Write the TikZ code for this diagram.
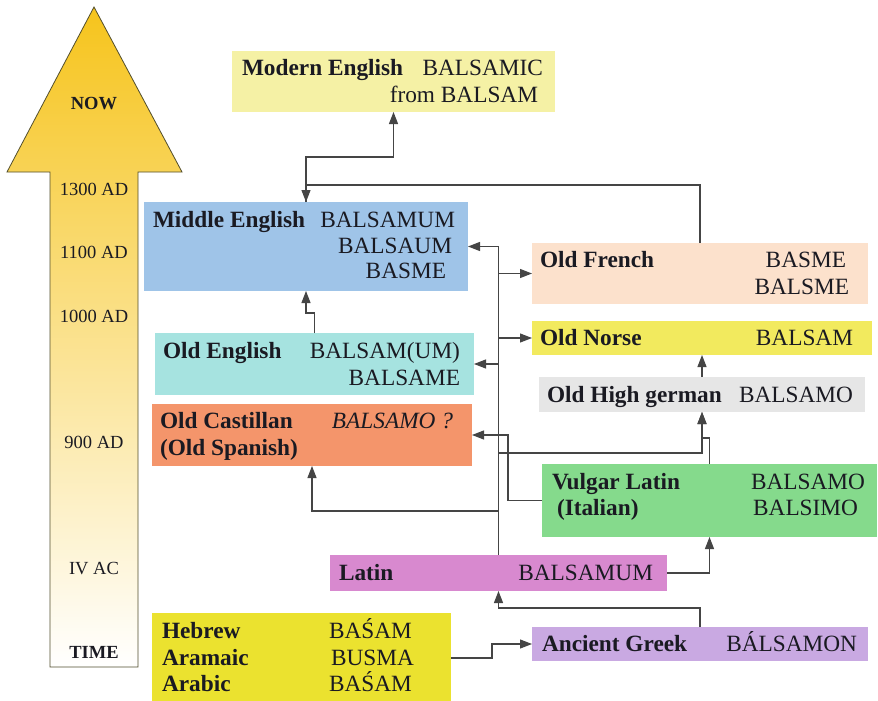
\documentclass[tikz,border=0pt]{standalone}
\usepackage{fontspec}
\setmainfont{Liberation Serif}
\usetikzlibrary{arrows.meta}
\definecolor{txt}{HTML}{1A1A22}
\definecolor{lnc}{HTML}{454545}
\definecolor{gold}{HTML}{F6C41C}
\definecolor{cmod}{HTML}{F5F1A5}
\definecolor{cmid}{HTML}{9FC4E8}
\definecolor{coe}{HTML}{A6E3E0}
\definecolor{cca}{HTML}{F4956B}
\definecolor{cfr}{HTML}{FCE1CC}
\definecolor{cno}{HTML}{F2EA5E}
\definecolor{cohg}{HTML}{E6E6E6}
\definecolor{cvl}{HTML}{85DA8C}
\definecolor{cla}{HTML}{D889CF}
\definecolor{cgr}{HTML}{C9A9E2}
\definecolor{che}{HTML}{EBE22F}
\begin{document}
\begin{tikzpicture}[x=1pt,y=-1pt,
  box/.style={draw=none,inner sep=0pt,outer sep=0pt},
  lt/.style={inner sep=0pt,outer sep=0pt,text=txt,font=\fontsize{23.3}{26}\selectfont},
  tl/.style={inner sep=0pt,outer sep=0pt,text=txt,font=\fontsize{18.5}{21}\selectfont,anchor=base},
  arr/.style={draw=lnc,line width=1.1pt,-{Triangle[length=12pt,width=9pt]}},
  ln/.style={draw=lnc,line width=1.1pt}]
\useasboundingbox (0,0) rectangle (878,701);
\fill[white] (0,0) rectangle (878,701);
% time arrow
\shade[top color=gold, middle color=gold!40!white, bottom color=white, draw=black!55!olive, line width=0.8pt]
  (94,7) -- (182,172) -- (138,172) -- (138,667) -- (50,667) -- (50,172) -- (7,172) -- cycle;
\node[tl] (now) at (94,110) {\bfseries NOW};
\node[tl] (y1300) at (94,195) {1300 AD};
\node[tl] (y1100) at (94,258) {1100 AD};
\node[tl] (y1000) at (94,322) {1000 AD};
\node[tl] (y900) at (94,448) {900 AD};
\node[tl] (yiv) at (94,574) {IV AC};
\node[tl] (time) at (94,658) {\bfseries TIME};
% boxes
\node[box,fill=cmod,minimum width=323,minimum height=61] (modern) at (393.5,81.5) {};
\node[box,fill=cmid,minimum width=324,minimum height=89] (middle) at (306,246.5) {};
\node[box,fill=coe,minimum width=319,minimum height=62] (oldeng) at (314.5,364) {};
\node[box,fill=cca,minimum width=320,minimum height=62] (oldcast) at (312,435) {};
\node[box,fill=cfr,minimum width=336,minimum height=61] (oldfr) at (700,273.5) {};
\node[box,fill=cno,minimum width=340,minimum height=34] (oldnorse) at (702,338) {};
\node[box,fill=cohg,minimum width=326,minimum height=35] (ohg) at (702,394.5) {};
\node[box,fill=cvl,minimum width=335,minimum height=73] (vulgar) at (709.5,500.5) {};
\node[box,fill=cla,minimum width=337,minimum height=36] (latin) at (498.5,573) {};
\node[box,fill=cgr,minimum width=336,minimum height=34] (greek) at (700,644) {};
\node[box,fill=che,minimum width=299,minimum height=90] (hebrew) at (301.5,658) {};
% texts
\node[lt,anchor=base west] (tmod) at (242,76) {\bfseries Modern English};
\node[lt,anchor=base east] (tmod1) at (543,76) {BALSAMIC};
\node[lt,anchor=base east] (tmod2) at (538,102) {from BALSAM};
\node[lt,anchor=base west] (tmid) at (153,227) {\bfseries Middle English};
\node[lt,anchor=base east] (tmid1) at (455,227) {BALSAMUM};
\node[lt,anchor=base east] (tmid2) at (452,253) {BALSAUM};
\node[lt,anchor=base east] (tmid3) at (446,278) {BASME};
\node[lt,anchor=base west] (toe) at (163,358) {\bfseries Old English};
\node[lt,anchor=base east] (toe1) at (460,358) {BALSAM(UM)};
\node[lt,anchor=base east] (toe2) at (460,385) {BALSAME};
\node[lt,anchor=base west] (tca) at (160,428) {\bfseries Old Castillan};
\node[lt,anchor=base west] (tca2) at (160,455) {\bfseries (Old Spanish)};
\node[lt,anchor=base east] (tca1) at (453,428) {\itshape BALSAMO ?};
\node[lt,anchor=base west] (tfr) at (540,267) {\bfseries Old French};
\node[lt,anchor=base east] (tfr1) at (846,267) {BASME};
\node[lt,anchor=base east] (tfr2) at (849,294) {BALSME};
\node[lt,anchor=base west] (tno) at (540,345) {\bfseries Old Norse};
\node[lt,anchor=base east] (tno1) at (853,345) {BALSAM};
\node[lt,anchor=base west] (tohg) at (547,402) {\bfseries Old High german};
\node[lt,anchor=base east] (tohg1) at (853,402) {BALSAMO};
\node[lt,anchor=base west] (tvl) at (552,489) {\bfseries Vulgar Latin};
\node[lt,anchor=base west] (tvl2) at (557,515) {\bfseries (Italian)};
\node[lt,anchor=base east] (tvl1) at (865,489) {BALSAMO};
\node[lt,anchor=base east] (tvl3) at (858,515) {BALSIMO};
\node[lt,anchor=base west] (tla) at (339,580) {\bfseries Latin};
\node[lt,anchor=base east] (tla1) at (653,580) {BALSAMUM};
\node[lt,anchor=base west] (tgr) at (542,651) {\bfseries Ancient Greek};
\node[lt,anchor=base east] (tgr1) at (857,651) {BÁLSAMON};
\node[lt,anchor=base west] (the1) at (162,638) {\bfseries Hebrew};
\node[lt,anchor=base west] (the2) at (162,665) {\bfseries Aramaic};
\node[lt,anchor=base west] (the3) at (162,691) {\bfseries Arabic};
\node[lt,anchor=base west] (thw1) at (329,638) {BAŚAM};
\node[lt,anchor=base west] (thw2) at (331,665) {BUSMA};
\node[lt,anchor=base west] (thw3) at (329,691) {BAŚAM};
% helper coordinates
\coordinate (m1) at (393.5,157);
\coordinate (f1) at (306,185);
\coordinate (y313) at (0,313);
\coordinate (y453) at (0,453);
\coordinate (y511) at (0,511);
\coordinate (y438) at (0,438);
\coordinate (y608) at (0,608);
\coordinate (v1) at (508,500.5);
\coordinate (h1) at (492,650);
% connectors
\draw[arr] (middle.north) |- (m1) -- (modern.south);
\draw[arr] (oldfr.north) |- (f1) -- (middle.north);
\draw[arr] (oldeng.north) |- (middle.south |- y313) -- (middle.south);
\draw[arr] (latin.north) |- (middle.east);
\draw[arr] (oldfr.west -| latin.north) -- (oldfr.west);
\draw[arr] (oldnorse.west -| latin.north) -- (oldnorse.west);
\draw[arr] (oldeng.east -| latin.north) -- (oldeng.east);
\draw[arr] (latin.north |- y453) -| (ohg.south);
\draw[arr] (latin.north |- y511) -| (oldcast.south);
\draw[arr] (vulgar.north) |- (ohg.south |- y438) -- (ohg.south);
\draw[arr] (vulgar.west) -- (v1) |- (oldcast.east);
\draw[arr] (ohg.north) -- (oldnorse.south);
\draw[arr] (latin.east) -| (vulgar.south);
\draw[arr] (greek.north) |- (latin.south |- y608) -- (latin.south);
\draw[arr] (hebrew.east) -| (h1) |- (greek.west);
\end{tikzpicture}
\end{document}
